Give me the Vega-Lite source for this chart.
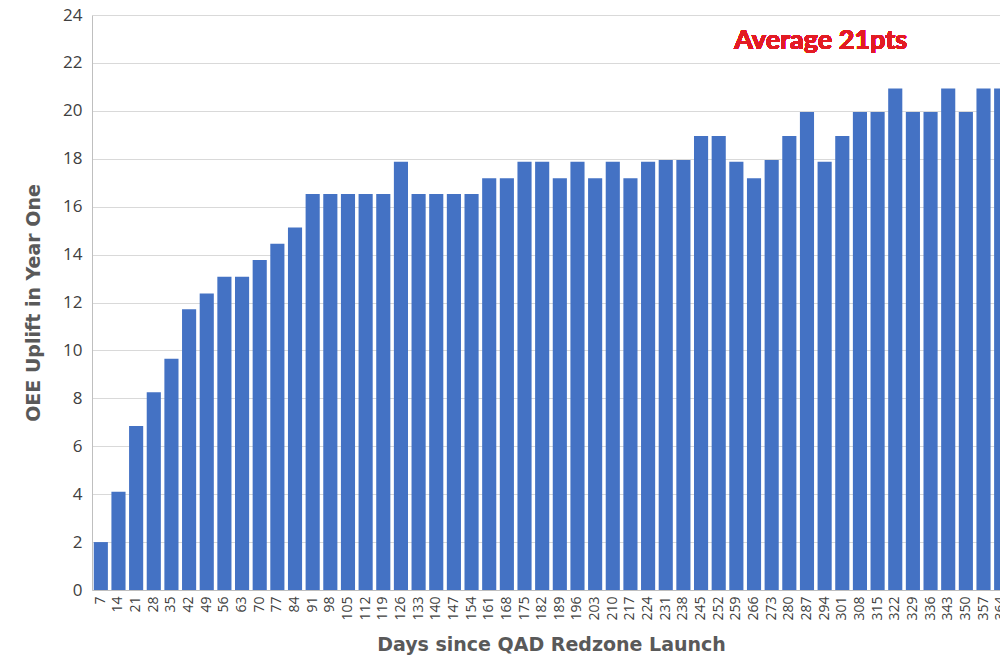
{
  "$schema": "https://vega.github.io/schema/vega-lite/v6.json",
  "description": "OEE uplift in year one by days since QAD Redzone launch",
  "autosize": {"type": "none"},
  "padding": {"left": 92, "top": 15, "right": 0, "bottom": 68},
  "width": 918,
  "height": 575,
  "background": "white",
  "data": {
    "values": [
      {"day": 7, "uplift": 2.0},
      {"day": 14, "uplift": 4.1},
      {"day": 21, "uplift": 6.85},
      {"day": 28, "uplift": 8.25},
      {"day": 35, "uplift": 9.65},
      {"day": 42, "uplift": 11.72},
      {"day": 49, "uplift": 12.38},
      {"day": 56, "uplift": 13.07},
      {"day": 63, "uplift": 13.07},
      {"day": 70, "uplift": 13.77},
      {"day": 77, "uplift": 14.45},
      {"day": 84, "uplift": 15.13},
      {"day": 91, "uplift": 16.53},
      {"day": 98, "uplift": 16.53},
      {"day": 105, "uplift": 16.53},
      {"day": 112, "uplift": 16.53},
      {"day": 119, "uplift": 16.53},
      {"day": 126, "uplift": 17.88},
      {"day": 133, "uplift": 16.53},
      {"day": 140, "uplift": 16.53},
      {"day": 147, "uplift": 16.53},
      {"day": 154, "uplift": 16.53},
      {"day": 161, "uplift": 17.19},
      {"day": 168, "uplift": 17.19},
      {"day": 175, "uplift": 17.88},
      {"day": 182, "uplift": 17.88},
      {"day": 189, "uplift": 17.19},
      {"day": 196, "uplift": 17.88},
      {"day": 203, "uplift": 17.19},
      {"day": 210, "uplift": 17.88},
      {"day": 217, "uplift": 17.19},
      {"day": 224, "uplift": 17.88},
      {"day": 231, "uplift": 17.95},
      {"day": 238, "uplift": 17.95},
      {"day": 245, "uplift": 18.95},
      {"day": 252, "uplift": 18.95},
      {"day": 259, "uplift": 17.88},
      {"day": 266, "uplift": 17.19},
      {"day": 273, "uplift": 17.95},
      {"day": 280, "uplift": 18.95},
      {"day": 287, "uplift": 19.95},
      {"day": 294, "uplift": 17.88},
      {"day": 301, "uplift": 18.95},
      {"day": 308, "uplift": 19.95},
      {"day": 315, "uplift": 19.95},
      {"day": 322, "uplift": 20.93},
      {"day": 329, "uplift": 19.95},
      {"day": 336, "uplift": 19.95},
      {"day": 343, "uplift": 20.93},
      {"day": 350, "uplift": 19.95},
      {"day": 357, "uplift": 20.93},
      {"day": 364, "uplift": 20.93}
    ]
  },
  "layer": [
    {
      "mark": {"type": "bar", "color": "#4472C4"},
      "encoding": {
        "x": {
          "field": "day",
          "type": "ordinal",
          "title": "Days since QAD Redzone Launch",
          "scale": {"paddingInner": 0.2, "paddingOuter": 0.1},
          "axis": {
            "labelAngle": -90,
            "labelFontSize": 14,
            "labelPadding": 6,
            "titlePadding": 15,
            "ticks": false
          }
        },
        "y": {
          "field": "uplift",
          "type": "quantitative",
          "title": "OEE Uplift in Year One",
          "scale": {"domain": [0, 24]},
          "axis": {
            "values": [0, 2, 4, 6, 8, 10, 12, 14, 16, 18, 20, 22, 24],
            "labelFontSize": 17,
            "labelPadding": 10,
            "titlePadding": 19,
            "ticks": false,
            "grid": true
          }
        }
      }
    },
    {
      "mark": {
        "type": "text",
        "text": "Average 21pts",
        "font": "Lato",
        "fontSize": 27,
        "fontWeight": "bold",
        "color": "#E31B23",
        "baseline": "middle",
        "align": "center",
        "dx": -4
      },
      "encoding": {
        "x": {"datum": 294, "type": "ordinal"},
        "y": {"datum": 22.9, "type": "quantitative"}
      }
    }
  ],
  "config": {
    "view": {"stroke": null},
    "axis": {
      "labelFont": "Open Sans",
      "labelColor": "#404040",
      "titleFont": "DejaVu Sans",
      "titleFontSize": 19,
      "titleFontWeight": "bold",
      "titleColor": "#595959",
      "domainColor": "#BFBFBF",
      "gridColor": "#D9D9D9",
      "gridWidth": 1
    },
    "axisX": {"grid": false}
  }
}
